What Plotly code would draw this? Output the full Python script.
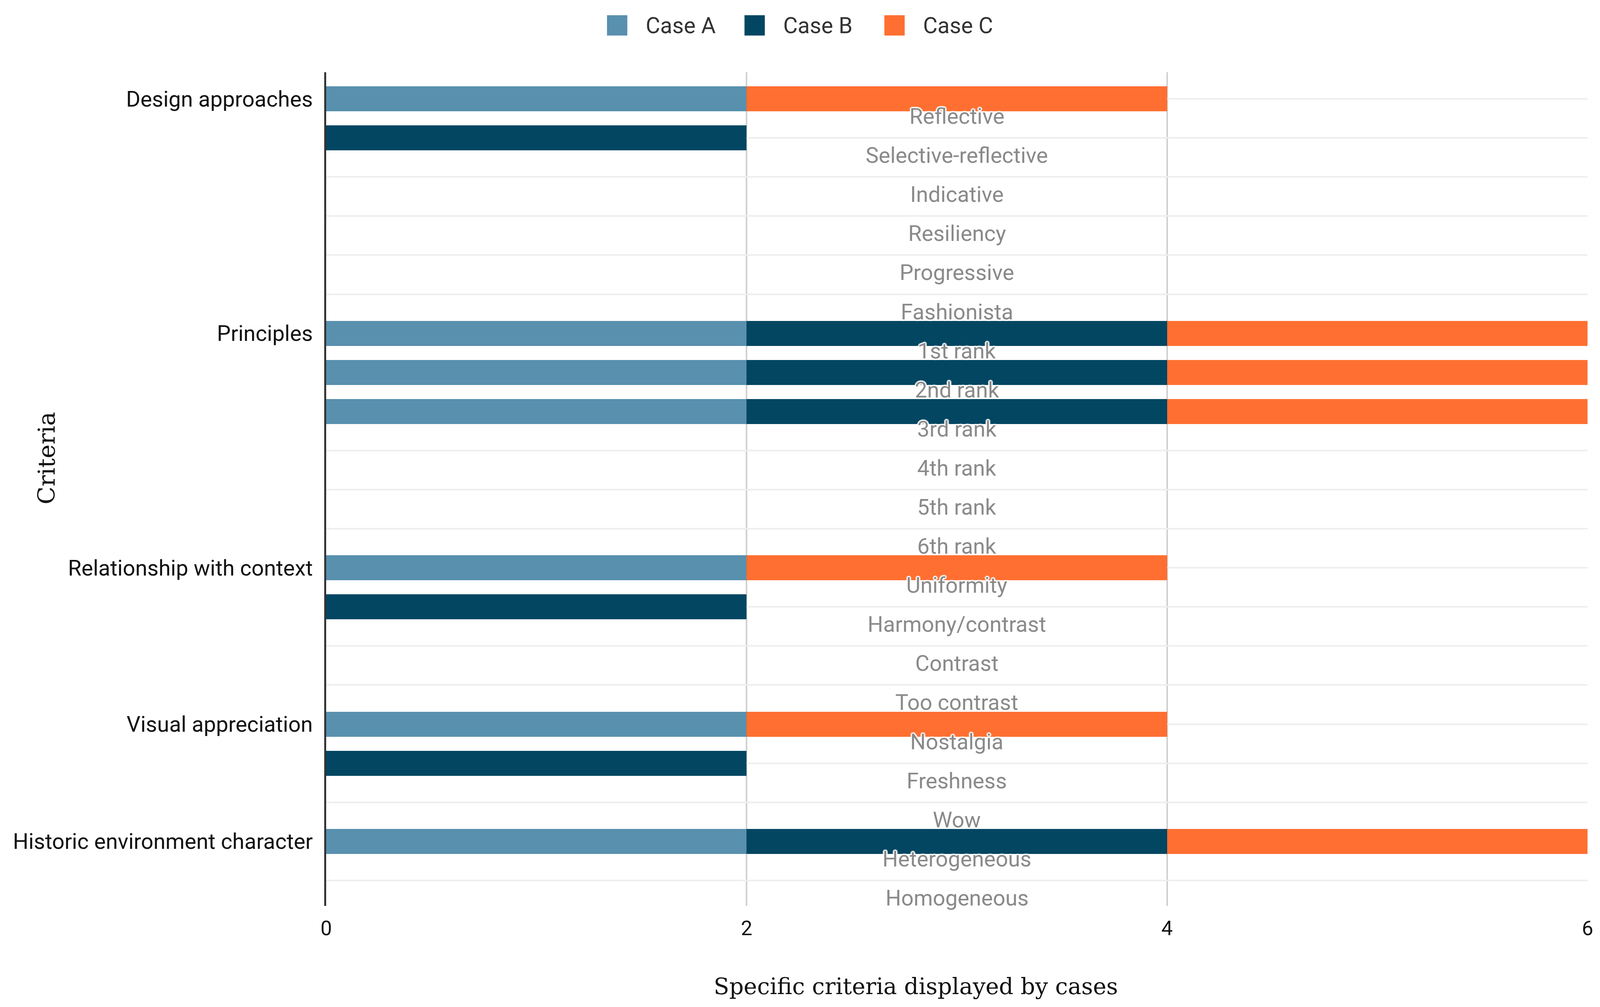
import plotly.graph_objects as go

criteria = ["Reflective", "Selective-reflective", "Indicative", "Resiliency", "Progressive",
            "Fashionista", "1st rank", "2nd rank", "3rd rank", "4th rank", "5th rank",
            "6th rank", "Uniformity", "Harmony/contrast", "Contrast", "Too contrast",
            "Nostalgia", "Freshness", "Wow", "Heterogeneous", "Homogeneous"]

group_labels = ["Design approaches", "", "", "", "", "",
                "Principles", "", "", "", "", "",
                "Relationship with context", "", "", "",
                "Visual appreciation", "", "",
                "Historic environment character", ""]

case_a = [2, 0, 0, 0, 0, 0, 2, 2, 2, 0, 0, 0, 2, 0, 0, 0, 2, 0, 0, 2, 0]
case_b = [0, 2, 0, 0, 0, 0, 2, 2, 2, 0, 0, 0, 0, 2, 0, 0, 0, 2, 0, 2, 0]
case_c = [2, 0, 0, 0, 0, 0, 2, 2, 2, 0, 0, 0, 2, 0, 0, 0, 2, 0, 0, 2, 0]

series = [("Case A", case_a, "#5890ae"), ("Case B", case_b, "#024662"), ("Case C", case_c, "#ff6f31")]
x_ticks = [0, 2, 4, 6]
label_x = 3

W, H = 4102, 2579
ML, MR, MT, MB = 827, 46, 177, 267

fig = go.Figure()
for name, vals, col in series:
    fig.add_trace(go.Bar(y=criteria, x=vals, name=name, orientation="h",
                         marker=dict(color=col, line=dict(width=0)), showlegend=False))

# in-plot criteria labels
halo = ("3px 0 2px #fff, -3px 0 2px #fff, 0 3px 2px #fff, 0 -3px 2px #fff, "
        "2px 2px 2px #fff, -2px -2px 2px #fff, 2px -2px 2px #fff, -2px 2px 2px #fff")
for c in criteria:
    fig.add_annotation(x=label_x, y=c, xref="x", yref="y", text=c, showarrow=False,
                       yshift=-45, font=dict(family="Roboto", size=56, color="#8a8a8a", shadow=halo))

# manual legend
leg_y = 1.0562
leg_sq = [0.2307, 0.3397, 0.4506]
leg_tx = [0.2527, 0.3617, 0.4726]
for (name, vals, col), sx, tx in zip(series, leg_sq, leg_tx):
    fig.add_shape(type="rect", xref="paper", yref="paper", xsizemode="pixel", ysizemode="pixel",
                  xanchor=sx, yanchor=leg_y, x0=-26, x1=26, y0=-26, y1=26,
                  fillcolor=col, line=dict(width=0))
    fig.add_annotation(x=tx, y=leg_y, xref="paper", yref="paper", text=name, showarrow=False,
                       xanchor="left", yanchor="middle",
                       font=dict(family="Roboto", size=57, color="#333333"))

# axis titles
fig.add_annotation(x=0.4676, y=-0.0965, xref="paper", yref="paper", text="Specific criteria displayed by cases",
                   showarrow=False, xanchor="center", yanchor="middle",
                   font=dict(family="DejaVu Serif", size=58, color="#111111"))
fig.add_annotation(x=-0.222, y=0.537, xref="paper", yref="paper", text="Criteria", textangle=-90,
                   showarrow=False, xanchor="center", yanchor="middle",
                   font=dict(family="DejaVu Serif", size=60, color="#111111"))

fig.update_layout(
    width=W, height=H, barmode="stack", bargap=0.36,
    margin=dict(l=ML, r=MR, t=MT, b=MB),
    plot_bgcolor="white", paper_bgcolor="white",
    font=dict(family="Roboto", color="#111111"),
    xaxis=dict(range=[0, 6], tickvals=x_ticks, showgrid=True, gridcolor="#d0d0d0", gridwidth=4,
               zeroline=False, showline=False, ticks="", ticklabelstandoff=22,
               tickfont=dict(family="Roboto", size=52, color="#111111")),
    yaxis=dict(type="category", categoryorder="array", categoryarray=criteria,
               range=[20.65, -0.68], tickvals=criteria, ticktext=group_labels,
               showgrid=True, gridcolor="#eeeeee", gridwidth=4,
               showline=True, linecolor="#333333", linewidth=5, ticks="",
               ticklabelstandoff=18, tickfont=dict(family="Roboto", size=56, color="#111111")),
)

fig.write_html("out.html")
